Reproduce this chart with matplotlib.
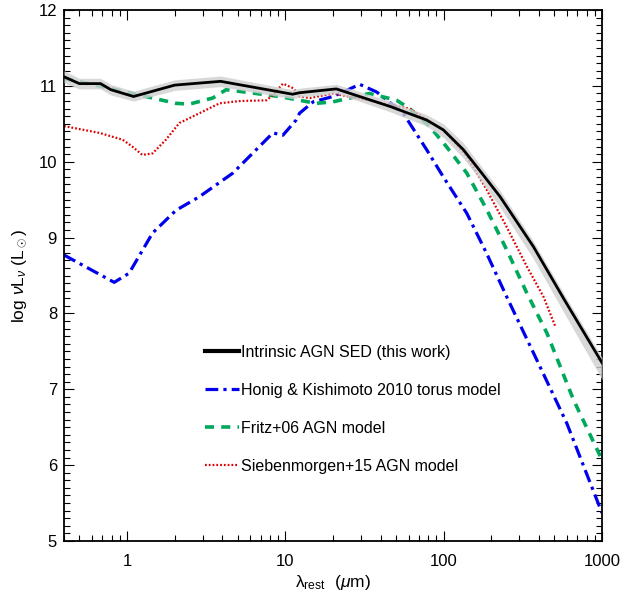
"""Intrinsic AGN SED compared with torus models"""

import numpy as np
import matplotlib
matplotlib.use("Agg")
from matplotlib import pyplot as plt
from matplotlib.ticker import FixedLocator, NullFormatter, MultipleLocator

# Intrinsic AGN SED (this work)
sed_wave = [0.4, 0.5, 0.68, 0.79, 1.1, 2.0, 3.9, 11.1, 12.3, 21, 45.7, 78,
            99.5, 133, 174, 227, 369, 571, 1000]
sed_lum = [11.12, 11.03, 11.03, 10.95, 10.86, 11.01, 11.06, 10.89, 10.91,
           10.96, 10.73, 10.55, 10.42, 10.16, 9.85, 9.54, 8.88, 8.20, 7.35]
sed_lo = [11.04, 10.96, 10.96, 10.88, 10.80, 10.94, 10.99, 10.83, 10.85,
          10.90, 10.66, 10.47, 10.32, 10.05, 9.73, 9.40, 8.72, 8.02, 7.13]
sed_hi = [11.20, 11.10, 11.10, 11.02, 10.93, 11.08, 11.13, 10.95, 10.97,
          11.02, 10.80, 10.62, 10.50, 10.25, 9.93, 9.62, 8.95, 8.27, 7.42]

# Honig & Kishimoto 2010 torus model
honig_wave = [0.4, 0.83, 1.03, 1.45, 2.04, 2.87, 4.66, 8.35, 9.66, 11.7,
              12.3, 15, 20, 29.5, 37.7, 55.5, 78, 99.5, 140, 187, 250, 369,
              600, 1000]
honig_lum = [8.77, 8.41, 8.53, 9.06, 9.36, 9.54, 9.85, 10.38, 10.35, 10.55,
             10.64, 10.79, 10.86, 11.02, 10.92, 10.64, 10.16, 9.80, 9.32,
             8.79, 8.22, 7.48, 6.55, 5.37]

# Fritz+06 AGN model
fritz_wave = [0.4, 0.77, 1.08, 2.04, 2.48, 3.48, 4.23, 9.2, 12.3, 15.7, 20,
              25.5, 34, 50.5, 61, 82, 104, 140, 187, 250, 335, 449, 661, 1000]
fritz_lum = [11.10, 10.97, 10.90, 10.77, 10.76, 10.84, 10.95, 10.86, 10.81,
             10.77, 10.79, 10.84, 10.90, 10.81, 10.70, 10.46, 10.20, 9.85,
             9.37, 8.84, 8.27, 7.74, 6.86, 6.07]

# Siebenmorgen+15 AGN model
sieb_wave = [0.4, 0.67, 0.94, 1.08, 1.25, 1.45, 1.76, 2.14, 2.87, 3.84, 5.14,
             7.6, 8.35, 9.66, 11.2, 12.3, 14.3, 20, 61, 99.5, 140, 187, 250,
             335, 427, 507]
sieb_lum = [10.47, 10.38, 10.29, 10.20, 10.09, 10.11, 10.29, 10.51, 10.64,
            10.77, 10.80, 10.81, 10.88, 11.03, 10.97, 10.86, 10.84, 10.90,
            10.70, 10.42, 10.07, 9.63, 9.14, 8.62, 8.22, 7.83]

x_ticks = [1, 10, 100, 1000]
x_tick_labels = ["1", "10", "100", "1000"]

plt.rcParams["font.family"] = ["Liberation Sans", "DejaVu Sans"]
plt.rcParams["mathtext.fontset"] = "custom"
plt.rcParams["mathtext.rm"] = "Liberation Sans"
plt.rcParams["mathtext.it"] = "Liberation Sans:italic"

fig = plt.figure(figsize=(6.25, 5.97), dpi=100)
ax = fig.add_axes([0.1024, 0.0938, 0.8608, 0.8894])

blue = "#0000ee"
green = "#00a85c"
red = "#dd0000"

ax.plot(honig_wave, honig_lum, color=blue, lw=2.3, ls=(0, (4, 1.6, 1, 1.6)),
        zorder=2, label="Honig & Kishimoto 2010 torus model")
ax.plot(fritz_wave, fritz_lum, color=green, lw=2.6, ls=(0, (2.5, 2.0)),
        zorder=2, label="Fritz+06 AGN model")
ax.plot(sieb_wave, sieb_lum, color=red, lw=1.6, ls=(0, (0.8, 0.9)),
        zorder=2, label="Siebenmorgen+15 AGN model")
ax.fill_between(sed_wave, sed_lo, sed_hi, color="#cfcfcf", alpha=0.8,
                lw=0, zorder=3)
ax.plot(sed_wave, sed_lum, color="black", lw=2.0, zorder=4,
        label="Intrinsic AGN SED (this work)")

ax.set_xscale("log")
ax.set_xlim(0.4, 1000)
ax.set_ylim(5, 12)

ax.xaxis.set_major_locator(FixedLocator(x_ticks))
ax.set_xticklabels(x_tick_labels)
ax.xaxis.set_minor_formatter(NullFormatter())
ax.yaxis.set_major_locator(MultipleLocator(1))
ax.yaxis.set_minor_locator(MultipleLocator(0.1))

ax.tick_params(which="both", direction="in", top=True, right=True,
               width=0.8, labelsize=12)
ax.tick_params(which="major", length=7.5)
ax.tick_params(which="minor", length=4)
ax.tick_params(axis="x", pad=9)
ax.tick_params(axis="y", pad=5)
for s in ax.spines.values():
    s.set_linewidth(1.3)

ax.set_xlabel(r"λ$_{\rm rest}$  ($\mu$m)", fontsize=12.5, labelpad=3)
ax.set_ylabel(r"log $\nu$L$_\nu$ (L$_\odot$)", fontsize=12.5, labelpad=7)

handles, labels = ax.get_legend_handles_labels()
order = [3, 0, 1, 2]
leg = ax.legend([handles[i] for i in order], [labels[i] for i in order],
                loc="upper left", bbox_to_anchor=(0.251, 0.382),
                frameon=False, fontsize=11.5, handlelength=2.1,
                handletextpad=0.15, labelspacing=1.45, borderaxespad=0)
leg.get_lines()[0].set_linewidth(3.0)

plt.savefig("out.png", dpi=100)
